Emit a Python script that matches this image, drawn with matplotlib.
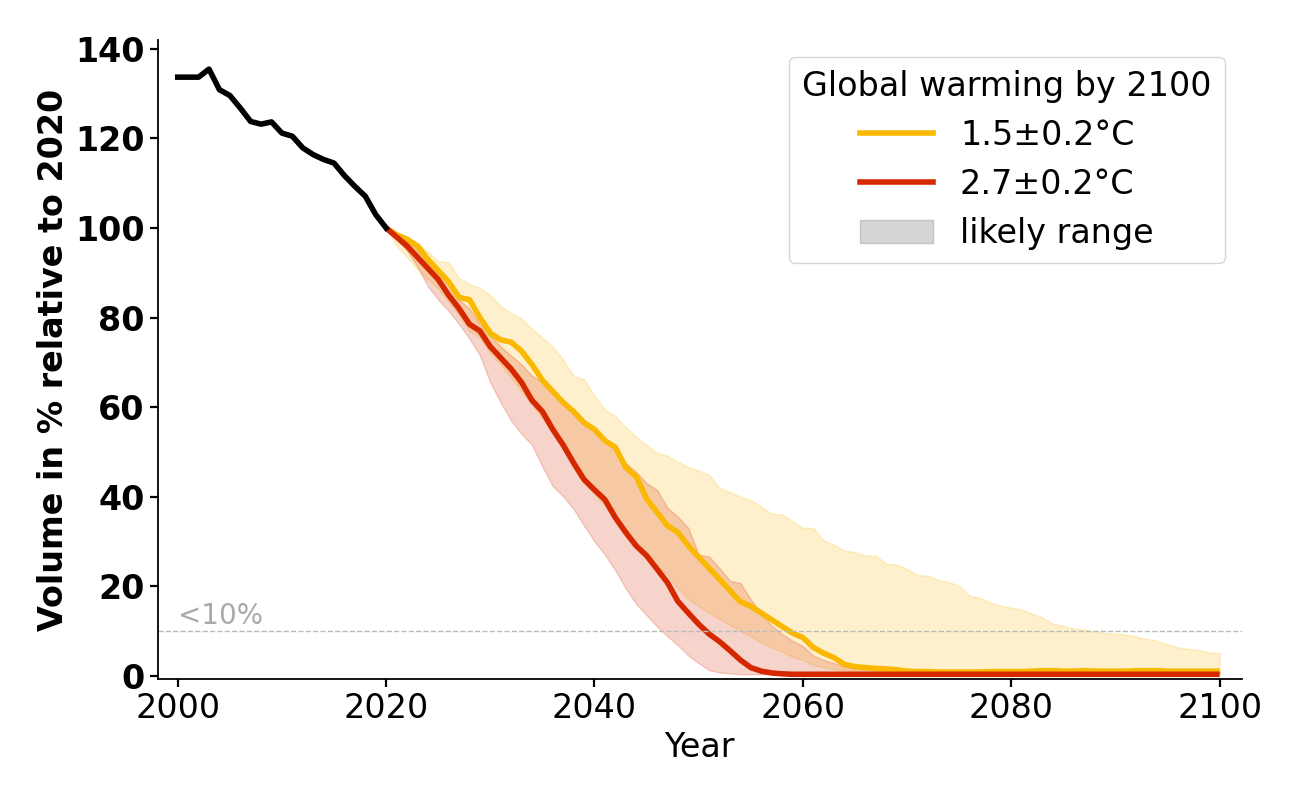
"""Glacier volume projections: observed decline plus two warming scenarios."""

import numpy as np
import matplotlib
matplotlib.use("Agg")
import matplotlib.pyplot as plt
from matplotlib.patches import Patch
from matplotlib.lines import Line2D

# observed volume, % of 2020
hist_years = list(range(2000, 2021))
hist_vol = [133.7, 133.7, 133.7, 135.5, 130.9, 129.6, 126.8, 123.8, 123.2, 123.7,
            121.2, 120.5, 117.9, 116.4, 115.3, 114.5, 111.7, 109.3, 107.1, 103.0, 100.0]

proj_years = list(range(2020, 2101))

# 1.5 +- 0.2 C scenario
med_15 = [100.0, 98.5, 97.5, 96.0, 93.0, 90.5, 88.0, 84.5, 84.0, 80.0,
          76.5, 75.0, 74.5, 72.5, 69.5, 66.0, 63.5, 61.0, 59.0, 56.5,
          55.0, 52.5, 51.0, 46.5, 44.5, 39.5, 36.5, 33.5, 32.0, 29.0,
          26.5, 24.0, 21.5, 19.0, 16.5, 15.5, 14.0, 12.5, 11.0, 9.5,
          8.5, 6.3, 5.0, 4.0, 2.5, 2.0, 1.8, 1.6, 1.5, 1.3,
          1.0, 0.9, 0.9, 0.8, 0.8, 0.8, 0.8, 0.8, 0.9, 0.9,
          0.9, 0.9, 1.0, 1.1, 1.1, 1.0, 1.0, 1.1, 1.0, 1.0,
          1.0, 1.0, 1.1, 1.1, 1.1, 1.0, 1.0, 1.0, 1.0, 1.0, 1.0]
hi_15 = [100.0, 99.0, 98.0, 96.6, 94.8, 92.6, 92.3, 88.8, 87.5, 86.6,
         85.0, 82.5, 81.0, 79.8, 77.5, 75.5, 73.5, 70.5, 67.0, 66.2,
         62.5, 59.5, 58.0, 55.5, 53.4, 51.5, 49.8, 49.1, 47.8, 46.6,
         45.8, 44.9, 41.9, 41.0, 40.0, 39.2, 37.8, 36.2, 36.0, 34.5,
         33.0, 33.0, 30.2, 29.2, 27.9, 27.6, 26.8, 26.8, 25.0, 24.8,
         23.8, 22.5, 22.3, 21.4, 20.9, 20.1, 17.8, 17.4, 16.3, 15.6,
         15.2, 14.8, 13.8, 13.0, 11.6, 11.1, 10.5, 10.3, 9.9, 9.5,
         9.4, 9.2, 8.7, 8.2, 7.8, 7.0, 6.3, 6.0, 5.7, 5.2, 5.0]
lo_15 = [100.0, 96.0, 93.5, 90.8, 88.5, 86.5, 83.5, 80.5, 77.0, 75.5,
         72.0, 69.5, 66.5, 63.5, 60.5, 57.5, 54.0, 50.5, 46.5, 43.0,
         40.5, 38.0, 34.5, 31.0, 28.5, 26.5, 24.5, 22.5, 19.5, 17.0,
         15.5, 14.0, 12.6, 11.3, 10.0, 8.8, 7.3, 6.3, 5.3, 4.2,
         3.5, 2.3, 1.8, 1.4, 1.2, 1.0] + [0.5] * 35

# 2.7 +- 0.2 C scenario
med_27 = [100.0, 98.0, 96.0, 93.5, 91.0, 88.5, 85.0, 82.0, 78.5, 77.0,
          73.5, 71.0, 68.5, 65.5, 61.5, 59.0, 55.0, 51.5, 47.5, 43.8,
          41.5, 39.3, 35.3, 32.0, 29.0, 26.8, 23.8, 20.8, 16.6, 14.0,
          11.5, 9.3, 7.6, 5.6, 3.5, 1.8, 1.0, 0.6, 0.4, 0.3] + [0.3] * 41
hi_27 = [100.0, 99.0, 97.0, 95.0, 92.5, 90.0, 87.5, 84.0, 82.0, 78.5,
         76.0, 73.5, 71.5, 69.5, 67.0, 65.7, 64.0, 61.5, 59.0, 57.0,
         55.0, 53.0, 51.0, 47.5, 45.5, 43.0, 41.5, 37.5, 35.5, 33.0,
         27.0, 26.6, 24.0, 21.2, 20.7, 17.0, 13.8, 11.2, 9.3, 7.8,
         6.6, 4.5, 3.5, 2.8, 2.0, 1.6, 1.3, 1.1, 1.0] + [0.8] * 32
lo_27 = [100.0, 97.5, 95.0, 91.4, 87.0, 84.0, 81.5, 78.5, 75.3, 71.5,
         65.5, 61.0, 57.0, 54.0, 51.5, 46.7, 42.3, 40.0, 37.2, 33.5,
         30.0, 27.0, 23.5, 19.5, 16.0, 13.5, 11.0, 8.8, 6.8, 4.5,
         2.8, 1.2, 0.7, 0.5] + [0.3] * 47

YELLOW = "#fbb800"
RED = "#d62800"

plt.rcParams["font.family"] = "DejaVu Sans"
fig = plt.figure(figsize=(13, 8), dpi=100)
ax = fig.add_axes([0.1215, 0.151, 0.8335, 0.799])

ax.fill_between(proj_years, lo_15, hi_15, color=YELLOW, alpha=0.2, lw=1)
ax.fill_between(proj_years, lo_27, hi_27, color=RED, alpha=0.2, lw=1)
ax.plot(proj_years, med_15, color=YELLOW, lw=4, solid_capstyle="butt")
ax.plot(proj_years, med_27, color=RED, lw=4, solid_capstyle="butt")
ax.plot(hist_years, hist_vol, color="black", lw=4)

ax.axhline(10, color="#bbbbbb", ls="--", lw=1)
ax.text(2000, 10.2, "<10%", color="#aaaaaa", fontsize=20, va="bottom")

ax.set_xlim(1998.1, 2102.1)
ax.set_ylim(-0.8, 142)
ax.set_xticks(range(2000, 2101, 20))
ax.set_yticks(range(0, 141, 20))
ax.tick_params(axis="both", labelsize=24, width=1.6, length=6)
for lab in ax.get_yticklabels():
    lab.set_fontweight("bold")
ax.set_xlabel("Year", fontsize=24)
ax.set_ylabel("Volume in % relative to 2020", fontsize=24, fontweight="bold")
ax.spines[["top", "right"]].set_visible(False)
for s in ("left", "bottom"):
    ax.spines[s].set_linewidth(1.3)

handles = [
    Line2D([], [], color=YELLOW, lw=4),
    Line2D([], [], color=RED, lw=4),
    Patch(facecolor="#d6d6d6", edgecolor="#c4c4c4"),
]
labels = ["1.5\u00b10.2\u00b0C", "2.7\u00b10.2\u00b0C", "likely range"]
ax.legend(handles, labels, title="Global warming by 2100", fontsize=24,
          title_fontsize=24, loc="upper right",
          handlelength=2.2, handletextpad=0.8, labelspacing=0.48)

fig.savefig("out.png", dpi=100)
